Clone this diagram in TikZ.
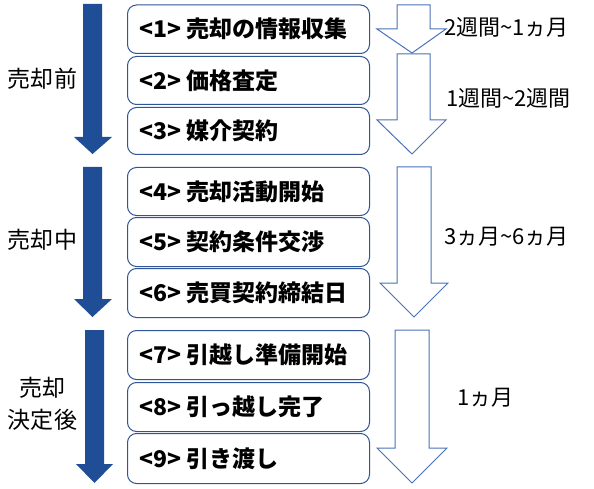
\documentclass[tikz,border=0pt]{standalone}
\usepackage{fontspec}
\newfontfamily\jp{Noto Sans CJK JP}
\definecolor{darkarrow}{HTML}{1F4E96}
\definecolor{boxline}{HTML}{2F5597}
\definecolor{hollow}{HTML}{4A72B8}
\begin{document}
\begin{tikzpicture}[x=1pt,y=-1pt,
  stepbox/.style={draw=boxline,line width=1pt,rounded corners=9pt,minimum width=242pt,anchor=north west,inner sep=0pt},
  steptext/.style={anchor=west,font=\jp\bfseries\fontsize{23}{23}\selectfont,inner sep=0pt},
  phasetext/.style={font=\jp\fontsize{23}{32}\selectfont,align=center,inner sep=0pt},
  durtext/.style={anchor=west,font=\jp\fontsize{22}{22}\selectfont,inner sep=0pt},
  bigarrow/.style={fill=darkarrow,draw=none},
  hollowarrow/.style={draw=hollow,line width=1pt,fill=white,line join=miter}]
\useasboundingbox (0,0) rectangle (594,489);
% steps boxes
\foreach \n/\t/\h/\txt in {
  1/4.5/48.5/{<1> 売却の情報収集},
  2/56/48/{<2> 価格査定},
  3/107/47/{<3> 媒介契約},
  4/167/48/{<4> 売却活動開始},
  5/217/49/{<5> 契約条件交渉},
  6/268/49/{<6> 売買契約締結日},
  7/330/49/{<7> 引越し準備開始},
  8/382/49/{<8> 引っ越し完了},
  9/433/50/{<9> 引き渡し}}{
  \node[stepbox,minimum height=\h pt] (b\n) at (127,\t) {};
  \node[steptext] (t\n) at ([xshift=12pt]b\n.west) {\txt};
}
% blue phase arrows
\path[bigarrow] (83,4) -- (102,4) -- (102,137) -- (112,137) -- (92.5,154) -- (74,137) -- (83,137) -- cycle;
\path[bigarrow] (83,167) -- (102,167) -- (102,299) -- (112,299) -- (92.5,317) -- (74,299) -- (83,299) -- cycle;
\path[bigarrow] (85,330) -- (104,330) -- (104,464) -- (113,464) -- (94.5,483) -- (76,464) -- (85,464) -- cycle;
% phase labels
\node[phasetext] (p1) at (42.5,79) {売却前};
\node[phasetext] (p2) at (42.5,240) {売却中};
\node[phasetext] (p3) at (42.5,404) {売却\\決定後};
% hollow duration arrows
\draw[hollowarrow] (397,5) -- (430,5) -- (430,29) -- (446,29) -- (412,53) -- (377,29) -- (397,29) -- cycle;
\draw[hollowarrow] (397,54) -- (430,54) -- (430,120) -- (446,120) -- (412,154) -- (377,120) -- (397,120) -- cycle;
\draw[hollowarrow] (397,167) -- (431,167) -- (431,283) -- (448,283) -- (414,317) -- (380,283) -- (397,283) -- cycle;
\draw[hollowarrow] (395,330) -- (429,330) -- (429,448) -- (447,448) -- (412,483) -- (377,448) -- (395,448) -- cycle;
% duration labels
\node[durtext] (d1) at (444,27) {2週間\textasciitilde1ヵ月};
\node[durtext] (d2) at (446,98) {1週間\textasciitilde2週間};
\node[durtext] (d3) at (444,237) {3ヵ月\textasciitilde6ヵ月};
\node[durtext] (d4) at (457,398) {1ヵ月};
\end{tikzpicture}
\end{document}
